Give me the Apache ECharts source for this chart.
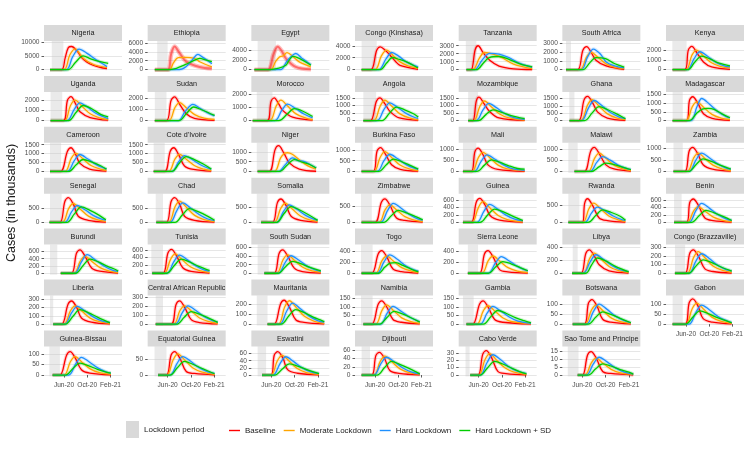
<!DOCTYPE html>
<html><head><meta charset="utf-8">
<script src="https://cdn.jsdelivr.net/npm/echarts@6.0.0/dist/echarts.min.js"></script>
<style>html,body{margin:0;padding:0;background:#fff}#c{width:750px;height:450px}</style>
</head><body><div id="c"></div>
<script>
// ---------- DATA ----------
const countries = ['Nigeria','Ethiopia','Egypt','Congo (Kinshasa)','Tanzania','South Africa','Kenya',
'Uganda','Sudan','Morocco','Angola','Mozambique','Ghana','Madagascar',
'Cameroon',"Cote d'Ivoire",'Niger','Burkina Faso','Mali','Malawi','Zambia',
'Senegal','Chad','Somalia','Zimbabwe','Guinea','Rwanda','Benin',
'Burundi','Tunisia','South Sudan','Togo','Sierra Leone','Libya','Congo (Brazzaville)',
'Liberia','Central African Republic','Mauritania','Namibia','Gambia','Botswana','Gabon',
'Guinea-Bissau','Equatorial Guinea','Eswatini','Djibouti','Cabo Verde','Sao Tome and Principe'];

// x values are months since 1 Jan 2020 (5 = Jun-20, 9 = Oct-20, 13 = Feb-21)
const xTickVals = [5, 9, 13];
const xTickLabels = ['Jun-20', 'Oct-20', 'Feb-21'];

const lockStart = [2.9,3.2,2.65,2.7,2.8,2.2,2.65, 2.7,2.8,2.5,3.0,3.2,2.75,2.7, 2.6,2.6,2.5,2.6,2.3,2.6,2.85,
 2.6,2.95,2.5,2.6,2.3,2.6,2.95, 2.6,2.2,2.65,2.6,3.15,3.35,3.1, 2.6,2.95,2.5,2.6,2.3,3.25,2.7, 2.5,2.75,2.65,2.7,2.75,2.5];
const lockEnd = [4.9,5.0,5.8,5.3,4.6,3.05,5.1, 4.7,4.8,5.2,5.2,4.9,3.65,4.45, 4.5,4.5,4.4,4.6,4.6,4.2,4.45,
 4.6,4.2,4.35,4.45,4.15,4.5,4.25, 3.85,4.2,4.55,4.6,4.9,4.2,4.85, 3.15,4.2,4.35,4.6,4.15,4.5,4.45, 4.3,4.8,4.1,4.15,3.45,4.35];

const yStep = [5000,2000,2000,2000,1000,1000,1000, 1000,1000,1000,500,500,500,500, 500,500,500,500,500,500,500,
 500,500,500,500,200,500,200, 200,200,200,200,200,200,100, 100,100,100,50,50,50,50, 50,50,20,20,10,5];
// upper data extent of each panel (incl. uncertainty band)
const yTop = [9900,6100,5580,4570,3425,3110,2790, 2626,2400,2090,1800,1800,1850,1560, 1530,1530,1400,1270,1210,1210,1176,
 940,940,900,860,740,810,730, 750,700,640,490,490,420,315, 330,305,280,160,160,140,140, 129,86,76,66,37,17.5];

// each series: flat list of x, y pairs
const baseline = [
[2.6,0,4.6,0,5.2,4200,5.75,8000,6.3,8400,7.2,6900,8.0,4500,8.9,2800,10.0,1600,11.2,850,12.4,370],
[2.8,0,5.0,0,5.6,3500,6.2,5200,7.0,3800,8.2,1800,10.5,600,12.6,230],
[2.1,0,4.4,0,5.4,3200,6.1,4700,6.8,3800,7.5,2300,9.2,550,11.8,70],
[2.7,0,4.3,0,5.3,3250,5.9,3830,6.8,3200,7.6,2420,8.5,1400,9.3,730,12.4,60],
[2.9,0,3.7,0,4.4,2500,4.9,3000,5.8,2100,6.9,1180,8.5,450,11,100,14.2,15],
[2.2,0,4.2,0,5.1,2200,5.75,2620,6.5,2000,7.35,1080,9.1,420,12.2,40],
[2.7,0,4.8,0,5.4,2000,6.0,2380,6.9,1700,8.0,790,9.4,280,12.55,35],
[2.7,0,4.9,0,5.6,1950,6.2,2300,7.1,1500,7.75,840,9.5,290,12.6,30],
[2.8,0,4.8,0,5.6,1780,6.2,2090,7.1,1400,8.2,600,9.6,200,13.06,20],
[1.8,0,4.3,0,4.95,1450,5.5,1740,6.3,1250,6.95,780,8.65,260,12.1,25],
[3.0,0,4.25,0,5.25,1270,5.85,1500,6.75,1080,7.6,590,9.2,170,12.43,20],
[3.2,0,4.0,0,4.6,1300,5.05,1550,5.95,1100,6.9,590,8.5,170,12.9,15],
[2.8,0,4.4,0,5.3,1400,5.9,1640,6.8,1180,7.6,590,9.3,170,12.4,20],
[2.7,0,5.1,0,5.6,1150,6.15,1360,7.05,980,8.0,390,9.5,130,12.55,15],
[2.6,0,4.4,0,5.6,1130,6.2,1330,7.0,960,7.75,450,9.4,130,12.3,15],
[2.6,0,4.5,0,5.45,1130,6.05,1330,6.95,900,7.9,310,9.45,110,12.5,15],
[2.65,0,4.65,0,5.65,1120,6.25,1320,7.15,950,8.1,440,9.8,120,12.7,10],
[2.7,0,4.7,0,5.35,940,5.95,1110,6.85,780,7.85,310,9.35,100,12.43,10],
[2.3,0,3.75,0,4.35,870,4.9,1030,5.8,720,6.6,290,8.3,90,12.9,5],
[3.65,0,5.35,0,6.45,910,7.05,1070,7.95,770,9.05,290,10.45,110,13.35,10],
[2.85,0,4.8,0,5.55,880,6.15,1040,7.05,750,7.95,290,9.55,100,12.7,10],
[2.5,0,4.3,0,5.15,720,5.75,850,6.65,610,7.45,210,9.15,70,12.2,5],
[3.05,0,4.8,0,5.6,720,6.2,850,7.1,610,7.9,210,9.6,70,13.05,5],
[3.25,0,5.2,0,6.05,650,6.65,770,7.55,550,8.4,200,10.05,65,12.95,5],
[2.7,0,5.0,0,6.1,630,6.7,740,7.6,530,8.7,135,10.1,60,13.2,5],
[2.3,0,3.75,0,4.6,550,5.2,650,6.1,470,7.0,180,8.6,60,12.6,5],
[2.6,0,5.0,0,5.4,560,5.9,700,6.8,490,7.9,130,9.3,50,12.4,5],
[2.95,0,5.1,0,5.65,530,6.25,625,7.15,450,8.25,115,9.65,45,12.85,5],
[4.45,0,6.3,0,7.15,550,7.75,645,8.65,460,9.75,145,11.15,55,14.3,5],
[2.35,0,4.2,0,5.05,520,5.65,610,6.55,440,7.6,140,9.05,45,12.2,5],
[3.8,0,5.5,0,6.35,470,6.95,550,7.85,395,8.95,120,10.35,40,13.5,5],
[2.7,0,4.45,0,5.55,345,6.15,405,7.05,290,8.1,75,9.55,30,12.45,3],
[3.15,0,5.15,0,6.0,345,6.6,405,7.5,290,8.6,65,10.0,25,13.45,3],
[3.25,0,4.8,0,5.6,305,6.2,360,7.1,260,7.9,130,9.6,35,12.95,3],
[3.1,0,4.85,0,5.65,230,6.25,270,7.15,195,8.25,50,9.65,20,12.85,2],
[3.15,0,4.6,0,5.7,240,6.3,280,7.2,200,8.0,75,9.7,25,12.9,2],
[2.95,0,5.6,0,6.45,220,7.05,260,7.95,185,9.05,50,10.45,18,13.6,2],
[4.35,0,5.5,0,6.6,210,7.2,245,8.1,175,9.2,45,10.6,18,14.1,2],
[3.0,0,4.45,0,5.55,116,6.15,137,7.05,99,8.1,27,9.55,11,12.7,1],
[2.9,0,4.0,0,5.15,116,5.75,137,6.65,99,7.75,27,9.15,11,14.0,1],
[3.35,0,5.35,0,6.05,107,6.65,126,7.55,91,8.5,25,9.9,10,13.35,1],
[2.7,0,4.85,0,5.55,110,6.15,130,7.05,94,7.95,28,9.55,10,12.85,1],
[3.05,0,4.3,0,5.45,94,6.05,111,6.95,80,8.0,25,9.45,9,13.05,1],
[3.35,0,4.8,0,5.6,63,6.2,74,7.1,53,8.2,11,9.6,5,13.05,0.5],
[3.4,0,4.95,0,5.5,55,6.1,65,7.0,47,7.8,15,9.5,5,13.2,0.5],
[2.7,0,4.45,0,5.15,47,5.75,55,6.65,40,7.55,11,9.15,4,12.7,0.5],
[3.55,0,4.9,0,5.7,28,6.3,33,7.2,24,8.3,5,9.7,2,13.2,0.2],
[4.2,0,5.05,0,5.9,12.8,6.5,15,7.4,10.8,8.5,2.3,9.9,1,13.75,0.1]
];

const moderate = [
[2.6,0,5.0,0,6.0,5300,6.9,7550,8.3,4150,10.0,1950,12.4,730],
[2.8,0,5.3,0,6.0,1500,6.8,2700,8.0,2750,9.5,2600,10.6,1700,12.6,600],
[2.1,0,4.9,0,5.7,1600,6.4,2600,7.0,2800,7.7,3500,8.7,2700,9.8,1600,11.8,550],
[2.7,0,5.0,0,6.1,2300,7.0,3270,8.2,2300,9.3,1300,10.8,600,12.4,230],
[2.9,0,4.0,0,5.1,1400,6.0,2150,7.5,1950,9.0,1500,11,700,14.2,120],
[2.2,0,4.6,0,5.7,1400,6.5,1960,7.7,1400,9.1,650,10.7,250,12.2,120],
[2.7,0,5.0,0,6.0,1450,6.8,2000,8.0,1400,9.4,700,11.0,300,12.55,170],
[2.7,0,5.1,0,6.1,1420,6.9,1970,8.1,1380,9.5,650,11.1,260,12.6,100],
[2.8,0,5.2,0,6.25,1140,7.05,1580,8.25,1100,9.65,520,11.25,210,13.06,90],
[1.8,0,4.7,0,5.85,1120,6.65,1560,7.85,1090,9.25,510,10.85,200,12.1,60],
[3.0,0,4.8,0,5.9,960,6.7,1340,7.9,940,9.3,440,10.9,170,12.43,50],
[3.2,0,4.2,0,5.2,930,6.0,1290,7.2,900,8.6,430,10.2,170,12.9,30],
[2.8,0,4.75,0,5.85,1010,6.65,1410,7.85,990,9.25,470,10.85,180,12.4,60],
[2.7,0,5.0,0,6.05,770,6.85,1070,8.05,750,9.45,350,11.05,140,12.55,50],
[2.6,0,5.15,0,6.25,730,7.05,1010,8.25,710,9.65,330,11.25,130,12.3,60],
[2.6,0,5.15,0,6.25,690,7.05,960,8.25,670,9.65,320,11.25,125,12.5,45],
[2.65,0,5.5,0,6.6,700,7.3,930,7.8,960,8.6,880,9.8,600,11.2,300,12.7,120],
[2.7,0,4.8,0,5.9,660,6.7,920,7.9,640,9.3,300,10.9,120,12.43,40],
[2.3,0,3.85,0,4.95,610,5.75,850,6.95,600,8.35,280,9.95,110,12.9,25],
[3.65,0,6.0,0,7.1,580,7.9,810,9.1,570,10.5,270,12.1,105,13.35,40],
[2.85,0,5.2,0,6.3,570,7.1,790,8.3,550,9.7,260,11.3,100,12.7,30],
[2.5,0,4.7,0,5.8,470,6.6,650,7.8,455,9.2,215,10.8,85,12.2,30],
[3.05,0,5.15,0,6.25,525,7.05,730,8.25,510,9.65,240,11.25,95,13.05,25],
[3.25,0,5.5,0,6.6,450,7.4,630,8.6,440,10.0,210,11.6,80,12.95,30],
[2.7,0,5.65,0,6.75,400,7.55,550,8.75,385,10.15,180,11.75,70,13.2,25],
[2.3,0,3.85,0,4.95,400,5.75,560,6.95,390,8.35,185,9.95,75,12.6,15],
[2.6,0,5.05,0,6.15,410,6.95,570,8.15,400,9.55,190,11.15,75,12.4,25],
[2.95,0,5.2,0,6.3,300,7.1,420,8.3,295,9.7,140,11.3,55,12.85,20],
[4.45,0,6.7,0,7.8,335,8.6,465,9.8,325,11.2,155,12.8,60,14.3,20],
[2.35,0,4.4,0,5.5,355,6.3,495,7.5,345,8.9,165,10.5,65,12.2,20],
[3.8,0,5.9,0,7.0,310,7.8,430,9.0,300,10.4,140,12.0,55,13.5,20],
[2.7,0,5.1,0,6.2,225,7.0,310,8.2,215,9.6,100,11.2,40,12.45,15],
[3.15,0,5.55,0,6.65,225,7.45,310,8.65,215,10.05,100,11.65,40,13.45,12],
[3.25,0,5.15,0,6.25,225,7.05,310,8.25,215,9.65,100,11.25,40,12.95,12],
[3.1,0,5.2,0,6.3,180,7.1,250,8.3,175,9.7,80,11.3,32,12.85,10],
[3.15,0,5.0,0,6.1,160,6.9,220,8.1,155,9.5,73,11.1,29,12.9,8],
[2.95,0,6.0,0,7.1,150,7.9,205,9.1,145,10.5,68,12.1,27,13.6,8],
[4.35,0,6.2,0,7.3,175,8.1,240,9.3,170,10.7,80,12.3,32,14.1,8],
[3.0,0,5.1,0,6.2,81,7.0,113,8.2,79,9.6,37,11.2,15,12.7,4],
[2.9,0,4.7,0,5.8,78,6.6,108,7.8,76,9.2,36,10.8,14,14.0,3],
[3.35,0,5.45,0,6.55,71,7.35,98,8.55,69,9.95,32,11.55,13,13.35,4],
[2.7,0,4.95,0,6.05,78,6.85,108,8.05,76,9.45,36,11.05,14,12.85,4],
[3.05,0,5.0,0,6.1,63,6.9,87,8.1,61,9.5,29,11.1,11,13.05,3],
[3.35,0,4.85,0,5.95,48,6.75,67,7.95,47,9.35,22,10.95,9,13.05,2],
[3.4,0,4.95,0,6.05,40,6.85,55,8.05,39,9.45,18,11.05,7,13.2,2],
[2.7,0,4.8,0,5.9,33,6.7,46,7.9,32,9.3,15,10.9,6,12.7,2],
[3.55,0,5.0,0,6.1,21,6.9,29,8.1,20,9.5,10,11.1,4,13.2,1],
[4.2,0,5.45,0,6.55,7.8,7.35,10.8,8.55,7.6,9.95,3.6,11.55,1.4,13.75,0.4]
];

const hard = [
[2.6,0,5.4,0,6.5,4700,7.6,7450,8.9,6000,10.6,3500,12.4,1100],
[2.8,0,7.0,0,8.2,700,9.3,2300,10.2,3400,11.0,2800,12.6,1300],
[2.1,0,6.6,0,7.6,1600,8.5,2800,9.2,3300,10.2,2400,11.8,1000],
[2.7,0,5.6,0,6.9,1800,7.9,2870,9.0,2300,10.4,1300,12.4,450],
[2.9,0,4.3,0,5.6,1200,6.9,2030,8.5,1950,10.2,1500,12.2,750,14.2,300],
[2.2,0,4.8,0,5.9,1450,6.9,2350,8.2,1700,9.1,880,10.7,400,12.2,190],
[2.7,0,5.2,0,6.4,1130,7.4,1830,8.7,1370,10.2,730,11.7,350,12.55,280],
[2.7,0,5.5,0,6.75,1060,7.75,1710,9.05,1280,10.55,680,12.6,190],
[2.8,0,6.8,0,8.0,800,9.35,1430,10.5,1100,11.8,700,13.06,400],
[1.8,0,5.6,0,6.8,780,7.8,1250,9.1,940,10.6,500,12.1,210],
[3.0,0,5.35,0,6.55,730,7.55,1170,8.85,880,10.35,470,11.85,200,12.43,150],
[3.2,0,4.6,0,5.75,700,6.75,1130,8.05,850,9.55,450,11.05,190,12.9,80],
[2.8,0,4.85,0,6.05,840,7.05,1360,8.35,1020,9.85,540,11.35,230,12.4,130],
[2.7,0,5.8,0,6.9,800,7.7,1260,9.0,950,10.5,500,12.0,210,12.55,170],
[2.6,0,5.55,0,6.75,590,7.75,950,9.05,710,10.55,380,12.05,160,12.3,140],
[2.6,0,5.7,0,6.9,550,7.9,890,9.2,670,10.7,360,12.2,150,12.5,130],
[2.65,0,6.2,0,7.4,350,8.65,700,9.6,560,10.6,520,11.8,330,12.7,175],
[2.7,0,5.35,0,6.55,500,7.55,800,8.85,600,10.35,320,11.85,140,12.43,110],
[2.3,0,4.25,0,5.45,460,6.45,735,7.75,550,9.25,290,10.75,125,12.9,50],
[3.65,0,6.3,0,7.5,410,8.5,660,9.8,500,11.3,260,12.8,110,13.35,90],
[2.85,0,5.5,0,6.7,490,7.7,790,9.0,590,10.5,320,12.0,130,12.7,100],
[2.5,0,5.1,0,6.3,360,7.3,580,8.6,435,10.1,230,11.6,100,12.2,80],
[3.05,0,5.4,0,6.6,415,7.6,670,8.9,500,10.4,270,11.9,115,13.05,60],
[3.25,0,5.9,0,7.1,360,8.1,575,9.4,430,10.9,230,12.4,100,12.95,80],
[2.7,0,5.95,0,7.15,370,8.15,600,9.45,450,10.95,240,12.45,100,13.2,70],
[2.3,0,4.7,0,5.9,300,6.9,490,8.2,370,9.7,195,11.2,85,12.6,40],
[2.6,0,5.4,0,6.6,280,7.6,450,8.9,340,10.4,180,11.9,75,12.4,60],
[2.95,0,5.5,0,6.7,315,7.7,510,9.0,380,10.5,205,12.0,85,12.85,55],
[4.45,0,6.8,0,8.0,315,9.0,510,10.3,380,11.8,205,13.3,85,14.3,50],
[2.35,0,4.85,0,6.05,290,7.05,465,8.35,350,9.85,185,11.35,80,12.2,55],
[3.8,0,6.2,0,7.4,255,8.4,410,9.7,310,11.2,165,12.7,70,13.5,45],
[2.7,0,5.35,0,6.55,205,7.55,330,8.85,250,10.35,130,11.85,55,12.45,40],
[3.15,0,6.6,0,7.9,185,8.9,300,10.2,225,11.7,120,13.2,50,13.45,45],
[3.25,0,5.15,0,6.35,175,7.35,285,8.65,215,10.15,115,11.65,50,12.95,25],
[3.1,0,5.5,0,6.7,140,7.7,225,9.0,170,10.5,90,12.0,40,12.85,28],
[3.15,0,5.1,0,6.3,135,7.3,215,8.6,160,10.1,85,11.6,37,12.9,20],
[2.95,0,6.3,0,7.5,125,8.5,205,9.8,155,11.3,82,12.8,35,13.6,22],
[4.35,0,6.45,0,7.65,135,8.65,215,9.95,160,11.45,85,12.95,37,14.1,20],
[3.0,0,5.9,0,7.1,64,8.1,104,9.4,78,10.9,42,12.4,18,12.7,15],
[2.9,0,5.25,0,6.45,64,7.45,104,8.75,78,10.25,42,11.75,18,14.0,5],
[3.35,0,5.7,0,6.9,64,7.9,103,9.2,77,10.7,41,12.2,18,13.35,7],
[2.7,0,5.5,0,6.7,61,7.7,98,9.0,74,10.5,39,12.0,17,12.85,8],
[3.05,0,5.8,0,7.0,52,8.0,84,9.3,63,10.8,34,12.3,14,13.05,9],
[3.35,0,5.4,0,6.6,36,7.6,58,8.9,44,10.4,23,11.9,10,13.05,5],
[3.4,0,5.3,0,6.5,32,7.5,51,8.8,38,10.3,20,11.8,9,13.2,4],
[2.7,0,4.8,0,6.0,27,7.0,43,8.3,32,9.8,17,11.3,7,12.7,3],
[3.55,0,5.25,0,6.45,17,7.45,27.5,8.75,21,10.25,11,11.75,5,13.2,2],
[4.2,0,5.7,0,6.9,7.1,7.9,11.4,9.2,8.6,10.7,4.6,12.2,1.9,13.75,0.6]
];

const hardSD = [
[2.6,0,5.7,0,7.0,2700,8.3,5000,9.7,3800,11.2,2900,12.6,2300],
[2.8,0,5.0,0,6.5,300,8.0,1100,9.3,1900,10.5,2500,11.5,2200,12.6,1800],
[2.1,0,4.7,0,6.3,300,7.5,900,8.0,1800,8.7,2700,9.8,2300,11.8,900],
[2.7,0,5.9,0,7.0,1100,8.0,2030,9.2,1700,10.4,1300,12.4,280],
[2.9,0,4.6,0,5.9,900,6.8,1520,8.5,1650,10.2,1300,12.2,700,14.2,350],
[2.2,0,5.1,0,6.3,800,7.35,1380,9.0,1250,10.5,700,12.2,300],
[2.7,0,5.3,0,6.5,760,7.7,1380,9.1,1100,10.7,660,12.55,380],
[2.7,0,5.8,0,7.1,800,8.3,1450,9.7,1160,11.3,600,12.6,350],
[2.8,0,7.0,0,8.2,600,9.5,1190,10.8,950,13.06,450],
[1.8,0,6.3,0,7.75,500,8.95,910,10.35,730,12.1,310],
[3.0,0,6.2,0,7.5,490,8.7,890,10.1,710,11.7,430,12.43,230],
[3.2,0,5.0,0,6.25,390,7.45,700,8.85,560,10.45,340,12.9,120],
[2.8,0,5.4,0,6.7,520,7.9,940,9.3,750,10.9,450,12.4,120],
[2.7,0,5.6,0,6.8,400,7.8,650,8.8,690,9.8,640,11.2,380,12.55,160],
[2.6,0,5.8,0,7.1,370,8.3,670,9.7,540,11.3,320,12.3,130],
[2.6,0,5.7,0,7.0,460,8.2,830,9.6,660,11.2,400,12.5,130],
[2.65,0,6.4,0,7.7,320,8.95,610,10.3,480,11.5,370,12.7,175],
[2.7,0,5.65,0,6.95,310,8.15,570,9.55,460,11.15,270,12.43,110],
[2.3,0,4.7,0,6.0,280,7.2,515,8.6,410,10.2,250,11.7,130,12.9,100],
[3.65,0,6.55,0,7.85,200,9.05,370,10.45,300,12.05,180,13.35,75],
[2.85,0,5.45,0,6.75,300,7.95,540,9.35,430,10.95,260,12.7,100],
[2.5,0,5.5,0,6.8,290,8.0,530,9.4,420,11.0,250,12.2,90],
[3.05,0,6.25,0,7.55,260,8.75,470,10.15,375,11.75,225,13.05,70],
[3.25,0,5.9,0,7.2,290,8.4,520,9.8,415,11.4,250,12.95,65],
[2.7,0,6.5,0,7.8,205,9.0,375,10.4,300,12.0,180,13.2,80],
[2.3,0,5.25,0,6.55,200,7.75,360,9.15,290,10.75,175,12.6,50],
[2.6,0,6.0,0,7.3,200,8.5,370,9.9,300,11.5,180,12.4,60],
[2.95,0,5.95,0,7.25,175,8.45,320,9.85,255,11.45,155,12.85,50],
[4.45,0,7.0,0,8.3,215,9.5,390,10.9,310,12.5,190,14.0,90,14.3,55],
[2.35,0,4.85,0,6.15,200,7.35,360,8.75,290,10.35,175,12.2,70],
[3.8,0,6.15,0,7.45,155,8.65,280,10.05,225,11.65,135,13.5,55],
[2.7,0,5.6,0,6.7,110,7.6,180,8.6,190,9.8,140,11.2,75,12.45,25],
[3.15,0,6.65,0,7.95,115,9.15,210,10.55,170,12.15,100,13.45,45],
[3.25,0,5.6,0,6.6,130,7.6,235,9.0,190,10.6,110,12.95,20],
[3.1,0,5.45,0,6.75,85,7.95,155,9.35,125,10.95,75,12.85,25],
[3.15,0,5.25,0,6.55,95,7.75,175,9.15,140,10.75,85,12.9,15],
[2.95,0,6.55,0,7.85,77,9.05,140,10.45,112,12.05,67,13.6,20],
[4.35,0,6.7,0,8.0,83,9.2,150,10.6,120,12.2,72,13.7,37,14.1,25],
[3.0,0,5.8,0,7.1,41,8.3,75,9.7,60,11.3,36,12.7,12],
[2.9,0,5.8,0,7.1,44,8.3,80,9.7,64,11.3,38,12.8,20,14.0,8],
[3.35,0,6.0,0,7.3,35,8.5,63,9.9,50,11.5,30,13.35,7],
[2.7,0,4.9,0,6.2,37,7.4,68,8.8,54,10.4,33,12.85,7],
[3.05,0,5.25,0,6.55,31,7.75,56,9.15,45,10.75,27,12.25,14,13.05,9],
[3.35,0,5.4,0,6.7,24,7.9,43,9.3,34,10.9,21,13.05,4],
[3.4,0,5.6,0,6.9,17,8.1,31,9.5,25,11.1,15,13.2,4],
[2.7,0,5.35,0,6.65,18,7.85,33,9.25,26,10.85,16,12.7,3],
[3.55,0,5.25,0,6.55,10,7.75,18.5,9.15,15,10.75,9,12.25,4,13.2,1.5],
[4.2,0,6.0,0,7.3,4,8.5,7.2,9.9,5.8,11.5,3.5,13.0,1.8,13.75,0.6]
];

const seriesNames = ['Baseline', 'Moderate Lockdown', 'Hard Lockdown', 'Hard Lockdown + SD'];
const seriesColors = ['#FF0000', '#FFA500', '#1E90FF', '#00CD00'];
const fadedBaseline = ['Ethiopia', 'Egypt'];

// ---------- LAYOUT ----------
const X_MIN = 1.57, X_MAX = 14.97;
const NCOL = 7, X0 = 44, DXC = 103.67, PW = 78, Y0 = 25, DYR = 50.9, SH = 16, PH = 30;
const FONT = '"Liberation Sans", Arial, Helvetica, sans-serif';

const chart = echarts.init(document.getElementById('c'), null, {renderer: 'canvas', width: 750, height: 450});
const grids = [], xAxes = [], yAxes = [], series = [], graphic = [];
const allSeries = [baseline, moderate, hard, hardSD];
const toPairs = a => { const p = []; for (let k = 0; k < a.length; k += 2) p.push([a[k], a[k + 1]]); return p; };

countries.forEach((name, i) => {
  const r = Math.floor(i / NCOL), c = i % NCOL;
  const left = X0 + c * DXC, stripTop = Y0 + r * DYR, top = stripTop + SH;
  const isBottom = i + NCOL >= countries.length;
  grids.push({left: left, top: top, width: PW, height: PH, containLabel: false, outerBoundsMode: 'none'});
  xAxes.push({
    type: 'value', gridIndex: i, min: X_MIN, max: X_MAX,
    axisLine: {show: false}, splitLine: {show: false},
    axisTick: {show: isBottom, customValues: xTickVals, length: 2.5, lineStyle: {color: '#333', width: 0.8}},
    axisLabel: {show: isBottom, customValues: xTickVals, margin: 5, fontSize: 6.6, color: '#4D4D4D', fontFamily: FONT,
      formatter: v => xTickLabels[xTickVals.indexOf(v)] || ''}
  });
  const yt = [];
  for (let v = 0; v <= 1.05 * yTop[i] + 1e-9; v += yStep[i]) yt.push(v);
  yAxes.push({
    type: 'value', gridIndex: i, min: -0.05 * yTop[i], max: 1.05 * yTop[i],
    axisLine: {show: false},
    axisTick: {show: true, customValues: yt, length: 2.5, lineStyle: {color: '#333', width: 0.8}},
    axisLabel: {customValues: yt, margin: 4.5, fontSize: 6.6, color: '#4D4D4D', fontFamily: FONT, formatter: v => String(v)},
    splitLine: {show: true, lineStyle: {color: '#E6E6E6', width: 1}}
  });
  // lockdown period shading
  series.push({
    type: 'line', name: 'Lockdown period', xAxisIndex: i, yAxisIndex: i, data: [],
    color: '#D9D9D9', itemStyle: {color: '#D9D9D9'}, lineStyle: {color: '#D9D9D9'}, z: 1, silent: true,
    markArea: {silent: true, itemStyle: {color: 'rgba(195,195,195,0.35)'},
      data: [[{xAxis: lockStart[i]}, {xAxis: lockEnd[i]}]]}
  });
  allSeries.forEach((arr, k) => {
    const pts = toPairs(arr[i]);
    const faded = k === 0 && fadedBaseline.includes(name);
    series.push({
      type: 'line', name: seriesNames[k] + ' band', xAxisIndex: i, yAxisIndex: i, data: pts,
      symbol: 'none', smooth: 0.35, silent: true, z: 2,
      lineStyle: {color: seriesColors[k], width: faded ? 4.5 : 3.5, opacity: faded ? 0.25 : 0.18}
    });
    series.push({
      type: 'line', name: seriesNames[k], xAxisIndex: i, yAxisIndex: i, data: pts,
      symbol: 'none', showSymbol: false, smooth: 0.35, silent: true, z: 3,
      color: seriesColors[k], itemStyle: {color: seriesColors[k]},
      lineStyle: {color: seriesColors[k], width: faded ? 2 : 1.3, opacity: faded ? 0.45 : 1}
    });
  });
  graphic.push({type: 'rect', silent: true, shape: {x: left, y: stripTop, width: PW, height: SH}, style: {fill: '#D9D9D9'}});
  graphic.push({type: 'text', silent: true, x: left + PW / 2, y: stripTop + SH / 2 + 0.5,
    style: {text: name, fill: '#1A1A1A', font: '7.2px ' + FONT, align: 'center', verticalAlign: 'middle',
      textAlign: 'center', textVerticalAlign: 'middle'}});
});

graphic.push({type: 'text', silent: true, x: 12, y: 203, rotation: Math.PI / 2,
  style: {text: 'Cases (in thousands)', fill: '#1A1A1A', font: '12.5px ' + FONT, align: 'center', verticalAlign: 'middle',
    textAlign: 'center', textVerticalAlign: 'middle'}});

chart.setOption({
  animation: false,
  backgroundColor: '#FFFFFF',
  textStyle: {fontFamily: FONT},
  grid: grids, xAxis: xAxes, yAxis: yAxes, series: series, graphic: graphic,
  legend: [
    {data: ['Lockdown period'], left: 126, top: 421, padding: 0, itemWidth: 13, itemHeight: 17, icon: 'rect',
      selectedMode: false, itemStyle: {borderWidth: 0}, textStyle: {fontSize: 8, color: '#1A1A1A', fontFamily: FONT}},
    {data: seriesNames, left: 229, top: 426.5, padding: 0, itemWidth: 11, itemHeight: 1.4, itemGap: 8, icon: 'rect',
      selectedMode: false, itemStyle: {borderWidth: 0}, textStyle: {fontSize: 8, color: '#1A1A1A', fontFamily: FONT}}
  ]
});
</script>
</body></html>
